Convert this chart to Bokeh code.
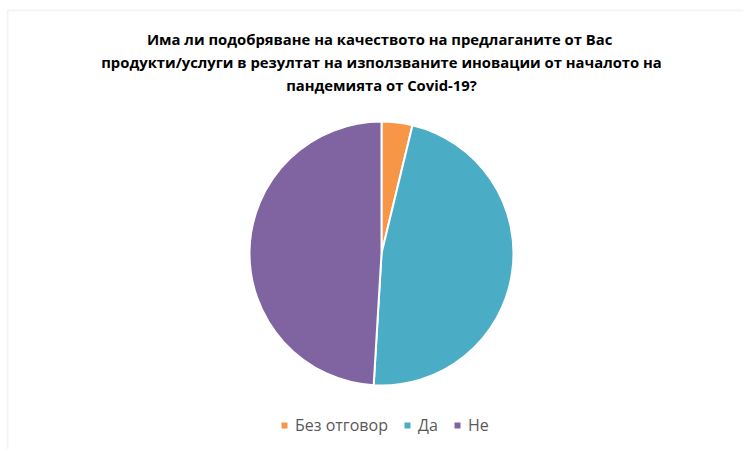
import math
from bokeh.plotting import figure
from bokeh.models import ColumnDataSource, Range1d, Label, Legend, LegendItem, BoxAnnotation
from bokeh.embed import file_html
from bokeh.resources import INLINE

categories = ["Без отговор", "Да", "Не"]
values = [2, 25, 26]
colors = ["#F79646", "#4BACC6", "#8064A2"]
title_lines = [
    "Има ли подобряване на качеството  на предлаганите от Вас",
    "продукти/услуги в резултат на използваните иновации от началото на",
    "пандемията от Covid-19?",
]

W, H = 743, 449
total = sum(values)
starts, ends = [], []
acc = 0.0
for v in values:
    a0 = math.pi / 2 - 2 * math.pi * acc / total
    acc += v
    a1 = math.pi / 2 - 2 * math.pi * acc / total
    starts.append(a0)
    ends.append(a1)

src = ColumnDataSource(dict(cat=categories, val=values, color=colors, start=starts, end=ends))

p = figure(width=W, height=H, output_backend="svg", toolbar_location=None,
           x_range=Range1d(0, W), y_range=Range1d(0, H), min_border=0)
p.axis.visible = False
p.grid.visible = False
p.outline_line_color = None
p.background_fill_color = "white"
p.border_fill_color = "white"

# chart border
p.add_layout(BoxAnnotation(left=7, top=H - 10, right=W + 50, bottom=-50,
                           fill_alpha=0, line_color="#d9d9d9", line_width=2))

r = p.wedge(x=381, y=H - 253, radius=132, start_angle="start", end_angle="end",
            direction="clock", fill_color="color", line_color="white", line_width=2,
            source=src)

p.add_layout(Label(x=381, y=H - 28, text="\n".join(title_lines), text_align="center",
                   text_baseline="top", text_font="Open Sans", text_font_style="bold",
                   text_font_size="14.8px", text_color="#000000", text_line_height=1.15))

items = [LegendItem(label=c, renderers=[r], index=i) for i, c in enumerate(categories)]
leg = Legend(items=items, orientation="horizontal", location=(279, 13),
             glyph_width=10, glyph_height=10, label_text_font="Open Sans",
             label_text_font_size="16px", label_text_color="#595959",
             spacing=14, label_standoff=6, border_line_color=None,
             background_fill_alpha=0, padding=0, margin=0)
p.add_layout(leg)

open("out.html", "w").write(file_html(p, INLINE))
